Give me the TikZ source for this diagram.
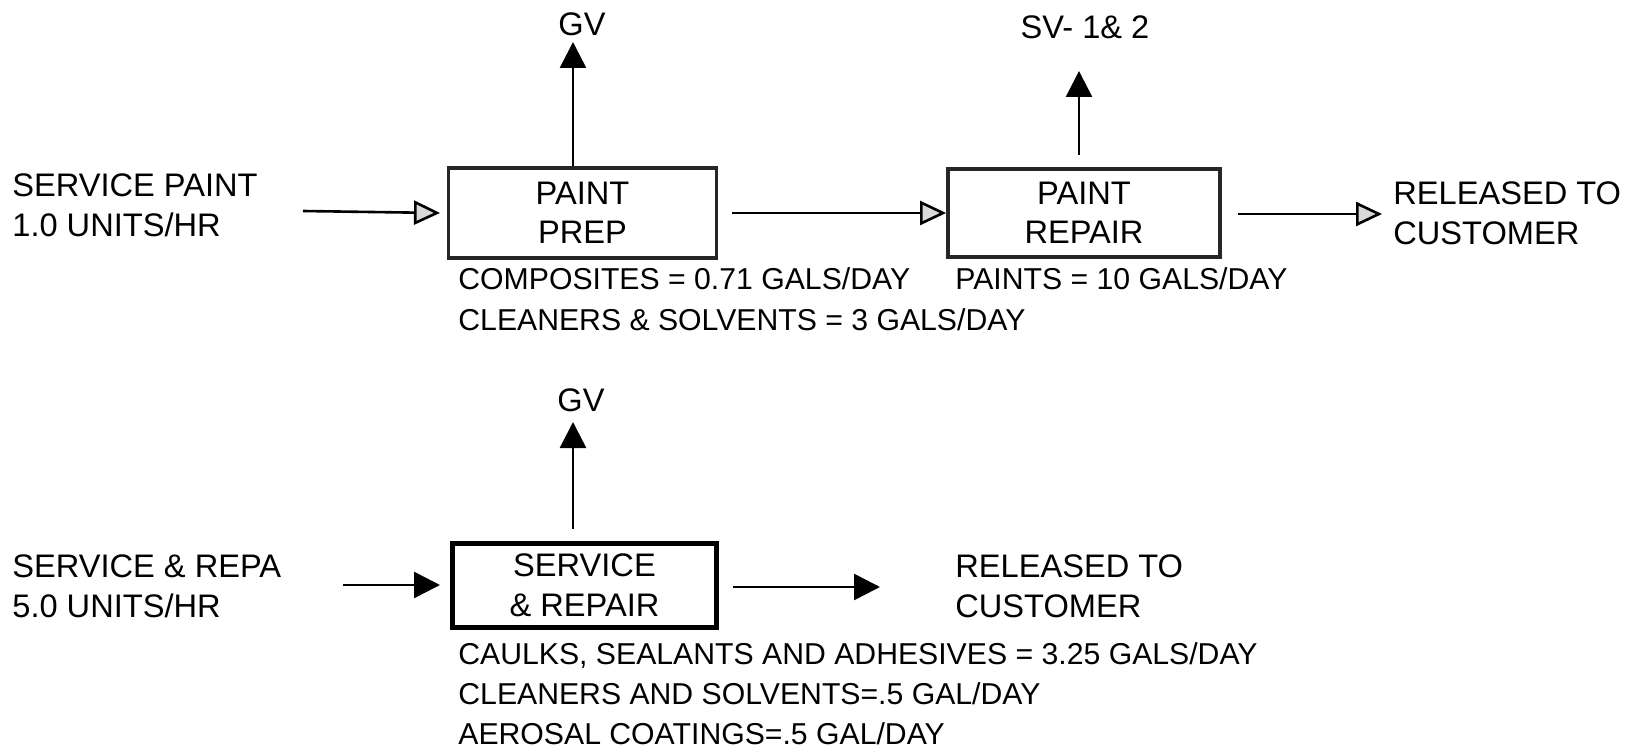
\documentclass[tikz,border=0pt]{standalone}
\usepackage{fontspec}
\setmainfont{Liberation Sans}
\usetikzlibrary{arrows.meta}
\begin{document}
\begin{tikzpicture}[x=0.5pt,y=-0.5pt,
  big/.style={font=\fontsize{16.3}{20}\selectfont, inner sep=0pt, align=left},
  small/.style={font=\fontsize{15.1}{20}\selectfont, inner sep=0pt, align=left},
  boxa/.style={draw=black!85, line width=1.9pt, minimum width=134pt, minimum height=45pt, inner sep=0pt, align=center, font=\fontsize{16.3}{19.5}\selectfont},
  boxb/.style={draw=black, line width=2.5pt, minimum width=132pt, minimum height=42pt, inner sep=0pt, align=center, font=\fontsize{16.3}{20}\selectfont},
  flow/.style={line width=1.3pt, -{Triangle[length=13pt,width=13pt]}},
  flowo/.style={line width=1.3pt, -{Triangle[length=13pt,width=12pt,fill=gray!30]}},
]
\path[use as bounding box] (0,0) rectangle (1639,749);

% top row
\node[big, anchor=north west] (in1) at (12,173) {SERVICE PAINT\\1.0 UNITS/HR};
\node[boxa] (prep) at (582.5,213) {PAINT\\PREP};
\node[boxa, minimum width=136pt, minimum height=44pt] (repair) at (1084,213) {PAINT\\REPAIR};
\node[big, anchor=north west] (rel1) at (1393,181) {RELEASED TO\\CUSTOMER};
\node[big, anchor=north] (gv1) at (582,12) {GV};
\node[big, anchor=north] (sv) at (1085,15) {SV- 1\& 2};
\node[small, anchor=north west] (comp) at (458,267) {COMPOSITES = 0.71 GALS/DAY};
\node[small, anchor=north west] (paints) at (955,267) {PAINTS = 10 GALS/DAY};
\node[small, anchor=north west] (cln1) at (458,308) {CLEANERS \& SOLVENTS = 3 GALS/DAY};

\coordinate (a1) at (303,211);
\coordinate (g1) at (573,42);
\coordinate (s1) at (1079,71);
\coordinate (r1) at (1382,214);

\draw[flowo] (a1) -- (prep.west -| 440,0);
\draw[flowo, shorten <=7pt] (prep.east) -- (repair.west);
\draw[flowo, shorten <=8pt] (repair.east |- r1) -- (r1);
\draw[flow] (g1 |- prep.north) -- (g1);
\draw[flow, shorten <=6pt] (s1 |- repair.north) -- (s1);

% bottom row
\node[big, anchor=north west] (in2) at (12,554) {SERVICE \& REPA\\5.0 UNITS/HR};
\node[boxb] (svc) at (584.5,585) {SERVICE\\\& REPAIR};
\node[big, anchor=north west] (rel2) at (955,554) {RELEASED TO\\CUSTOMER};
\node[big, anchor=north] (gv2) at (581,388) {GV};
\node[small, anchor=north west] (mat2) at (458,642) {CAULKS, SEALANTS AND ADHESIVES = 3.25 GALS/DAY\\CLEANERS AND SOLVENTS=.5 GAL/DAY\\AEROSAL COATINGS=.5 GAL/DAY};

\coordinate (a2) at (343,585);
\coordinate (g2) at (573,422);
\coordinate (r2) at (880,587);

\draw[flow] (a2) -- (440,585);
\draw[flow, shorten <=7pt] (svc.east |- r2) -- (r2);
\draw[flow, shorten <=6pt] (g2 |- svc.north) -- (g2);
\end{tikzpicture}
\end{document}
